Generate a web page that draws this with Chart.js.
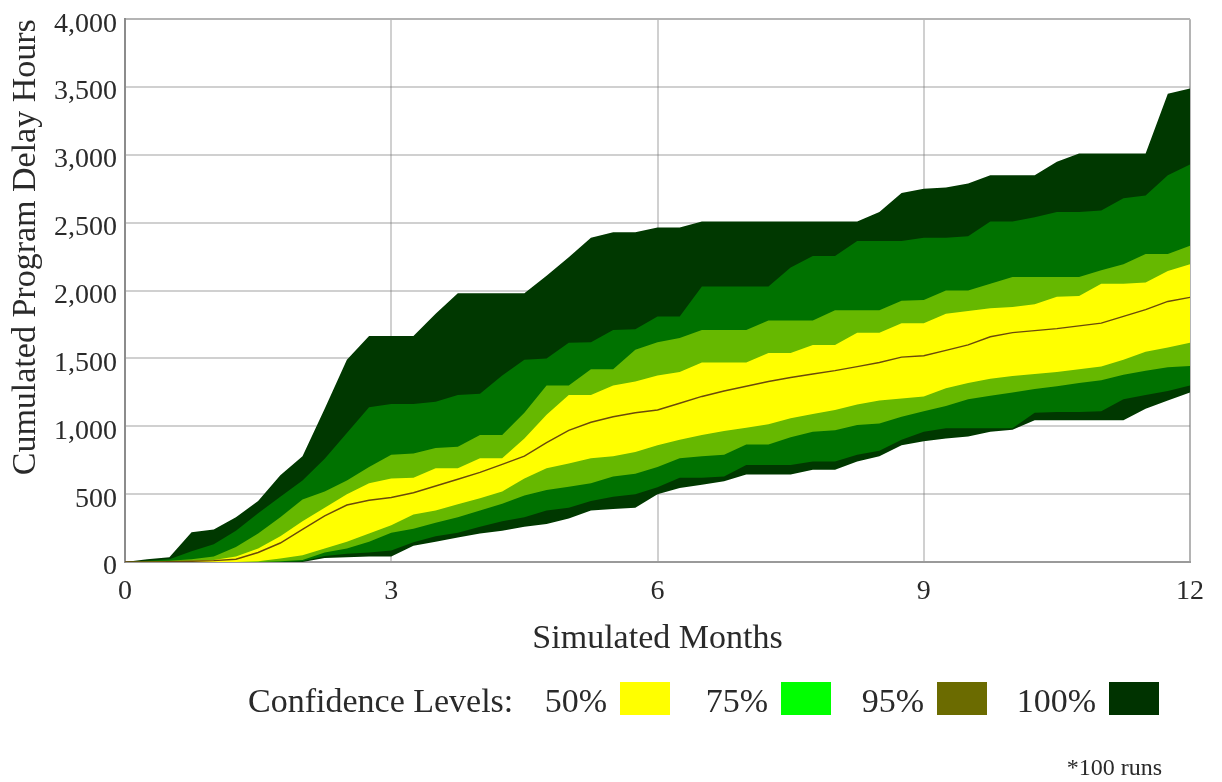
<!DOCTYPE html>
<html>
<head>
<meta charset="utf-8">
<script src="https://cdn.jsdelivr.net/npm/chart.js@4.4.1/dist/chart.umd.min.js"></script>
<style>
  html, body { margin: 0; padding: 0; background: #ffffff; }
  #wrap { position: relative; width: 1222px; height: 782px; overflow: hidden; }
  #c { position: absolute; left: 0; top: 0; }
  .lg { position: absolute; font-family: "Liberation Serif", "Times New Roman", serif; color: #2a2a2a; white-space: nowrap; }
  .box { position: absolute; }
</style>
</head>
<body>
<div id="wrap">
  <canvas id="c" width="1222" height="782"></canvas>
  <div id="legend"></div>
</div>
<script>
// ---- Data ----
const months = [0,0.25,0.5,0.75,1,1.25,1.5,1.75,2,2.25,2.5,2.75,3,3.25,3.5,3.75,4,4.25,4.5,4.75,5,5.25,5.5,5.75,6,6.25,6.5,6.75,7,7.25,7.5,7.75,8,8.25,8.5,8.75,9,9.25,9.5,9.75,10,10.25,10.5,10.75,11,11.25,11.5,11.75,12];

const upper100 = [0,20,35,220,240, 330,450,640,780,1130, 1490,1665,1665,1665,1830, 1980,1980,1980,1980,2110, 2245,2390,2430,2430,2465, 2465,2510,2510,2510,2510, 2510,2510,2510,2510,2580, 2720,2750,2760,2790,2850, 2850,2850,2950,3010,3010, 3010,3010,3450,3490];
const upper95  = [0,10,20,80,130, 230,360,480,600,760, 950,1140,1165,1165,1180, 1230,1240,1375,1490,1500, 1615,1620,1710,1715,1810, 1810,2030,2030,2030,2030, 2170,2255,2255,2365,2365, 2365,2390,2390,2400,2510, 2510,2540,2580,2580,2590, 2680,2700,2850,2930];
const upper75  = [0,5,10,20,40, 110,210,330,460,520, 600,700,790,800,840, 850,935,935,1100,1300, 1300,1420,1420,1565,1620, 1650,1710,1710,1710,1780, 1780,1780,1855,1855,1855, 1925,1930,2000,2000,2050, 2100,2100,2100,2100,2150, 2195,2270,2270,2330];
const upper50  = [0,0,5,10,15, 40,100,190,300,400, 500,580,615,620,690, 690,765,765,910,1085, 1230,1230,1300,1330,1375, 1400,1470,1470,1470,1540, 1540,1600,1600,1690,1690, 1760,1760,1830,1850,1870, 1880,1900,1955,1960,2050, 2050,2060,2145,2195];
const median   = [0,0,3,5,10, 20,70,140,240,340, 420,455,475,510,560, 610,660,720,780,880, 970,1030,1070,1100,1120, 1170,1220,1260,1295,1330, 1360,1385,1410,1440,1470, 1510,1520,1560,1600,1660, 1690,1705,1720,1740,1760, 1810,1860,1920,1950];
const lower50  = [0,0,0,0,0, 0,5,25,50,100, 150,210,270,350,380, 425,470,520,615,690, 725,765,780,810,860, 900,935,965,990,1015, 1060,1090,1120,1160,1190, 1205,1220,1280,1320,1350, 1370,1385,1400,1420,1440, 1490,1550,1580,1615];
const lower75  = [0,0,0,0,0, 0,0,5,15,70, 100,150,215,245,290, 330,380,430,490,530, 555,580,630,650,700, 765,780,790,865,865, 920,960,970,1010,1020, 1070,1110,1150,1200,1225, 1250,1275,1295,1320,1340, 1380,1410,1435,1445];
const lower95  = [0,0,0,0,0, 0,0,0,5,45, 60,70,85,145,190, 215,260,300,330,380, 400,450,480,500,550, 620,620,630,715,715, 715,740,740,790,820, 900,960,985,985,985, 985,1100,1105,1105,1110, 1200,1230,1260,1300];
const lower100 = [0,0,0,0,0, 0,0,0,0,30, 35,40,40,120,150, 180,210,230,260,280, 320,380,390,400,500, 545,570,595,645,645, 645,680,680,740,780, 860,890,910,925,960, 975,1045,1045,1045,1045, 1045,1130,1190,1250];

const xTicks = [0, 3, 6, 9, 12];
const yTicks = [0, 500, 1000, 1500, 2000, 2500, 3000, 3500, 4000];
const legendLabels = ['50%', '75%', '95%', '100%'];
const legendTitle = 'Confidence Levels:';
const footnote = '*100 runs';
const xTitle = 'Simulated Months';
const yTitle = 'Cumulated Program Delay Hours';

// ---- Styles ----
const bandColors = { b50: '#ffff00', b75: '#66b800', b95: '#007200', b100: '#003800' };
const legendColors = ['#ffff00', '#00ff00', '#6b6b00', '#003300'];
const medianColor = '#6b4a0a';
const serif = '"Liberation Serif", "Times New Roman", serif';

const pts = arr => arr.map((v, i) => ({ x: months[i], y: v }));
function band(data, color, target) {
  return {
    data: pts(data), borderWidth: 0, borderColor: 'rgba(0,0,0,0)', pointRadius: 0,
    backgroundColor: color, fill: target === null ? false : { target: target }, tension: 0
  };
}

const datasets = [
  { data: pts(median), borderColor: medianColor, borderWidth: 1.4, pointRadius: 0, fill: false, tension: 0 }, // 0
  band(upper50, bandColors.b50, 2),   // 1
  band(lower50, bandColors.b50, null),// 2
  band(upper75, bandColors.b75, 4),   // 3
  band(lower75, bandColors.b75, null),// 4
  band(upper95, bandColors.b95, 6),   // 5
  band(lower95, bandColors.b95, null),// 6
  band(upper100, bandColors.b100, 8), // 7
  band(lower100, bandColors.b100, null) // 8
];

const yMax = yTicks[yTicks.length - 1];
const xMax = xTicks[xTicks.length - 1];

new Chart(document.getElementById('c'), {
  type: 'line',
  data: { datasets },
  options: {
    responsive: false,
    animation: false,
    devicePixelRatio: 1,
    layout: { padding: { left: 0, right: 32, top: 12, bottom: 120 } },
    plugins: { legend: { display: false }, tooltip: { enabled: false } },
    elements: { line: { borderCapStyle: 'round' } },
    scales: {
      x: {
        type: 'linear', min: xTicks[0], max: xMax, z: 1,
        afterBuildTicks: s => { s.ticks = xTicks.map(v => ({ value: v })); },
        afterFit: s => { s.height = 100; },
        grid: {
          drawTicks: false, lineWidth: 2,
          color: c => (c.tick && c.tick.value === xMax) ? '#b4b4b4' : 'rgba(120,120,120,0.35)'
        },
        border: { display: true, color: '#9a9a9a', width: 2 },
        ticks: { padding: 13, color: '#2a2a2a', font: { family: serif, size: 28 }, maxRotation: 0 },
        title: { display: true, text: xTitle, color: '#2a2a2a', font: { family: serif, size: 34 }, padding: { top: 0, bottom: 3 } }
      },
      y: {
        type: 'linear', min: yTicks[0], max: yMax, z: 1,
        afterBuildTicks: s => { s.ticks = yTicks.map(v => ({ value: v })); },
        afterFit: s => { s.width = 125; },
        grid: {
          drawTicks: false, lineWidth: 2,
          color: c => (c.tick && c.tick.value === yMax) ? '#b4b4b4' : 'rgba(120,120,120,0.35)'
        },
        border: { display: true, color: '#8c8c8c', width: 2 },
        ticks: {
          padding: 8, labelOffset: 5, color: '#2a2a2a',
          font: { family: serif, size: 28, lineHeight: 0.8 },
          callback: v => v.toLocaleString('en-US')
        },
        title: { display: true, text: yTitle, align: 'end', color: '#2a2a2a', font: { family: serif, size: 34 }, padding: { top: 6, bottom: 0 } }
      }
    }
  }
});

// ---- Legend (HTML text) ----
const legendLayout = { titleLeft: 248, textTop: 681, boxLefts: [620, 781, 937, 1109], boxTop: 682, boxW: 50, boxH: 33, gap: 13 };
const lg = document.getElementById('legend');
function addText(txt, css) {
  const d = document.createElement('div');
  d.className = 'lg'; d.textContent = txt;
  Object.assign(d.style, css);
  lg.appendChild(d);
  return d;
}
addText(legendTitle, { left: legendLayout.titleLeft + 'px', top: legendLayout.textTop + 'px', fontSize: '34px', lineHeight: '40px' });
legendLabels.forEach((lab, i) => {
  const bl = legendLayout.boxLefts[i];
  addText(lab, { right: (1222 - bl + legendLayout.gap) + 'px', top: legendLayout.textTop + 'px', fontSize: '34px', lineHeight: '40px' });
  const b = document.createElement('div');
  b.className = 'box';
  Object.assign(b.style, { left: bl + 'px', top: legendLayout.boxTop + 'px', width: legendLayout.boxW + 'px', height: legendLayout.boxH + 'px', background: legendColors[i] });
  lg.appendChild(b);
});
addText(footnote, { right: '60px', top: '753px', fontSize: '24px', lineHeight: '28px' });
</script>
</body>
</html>
